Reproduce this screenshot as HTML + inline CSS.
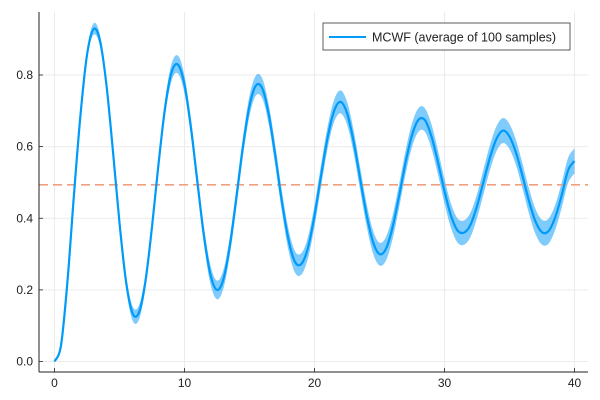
<!DOCTYPE html>
<html><head><meta charset="utf-8">
<style>
html,body{margin:0;padding:0;background:#fff;}
svg{display:block;font-family:"Liberation Sans","DejaVu Sans",sans-serif;}
</style></head>
<body>
<svg id="chart" width="600" height="400" viewBox="0 0 600 400">
<g id="grid"></g>
<g id="band"></g>
<g id="series"></g>
<g id="axes"></g>
<g>
  <rect x="323" y="23" width="247" height="27" fill="#fff" stroke="#333" stroke-width="0.8"/>
  <line x1="329" y1="37" x2="366" y2="37" stroke="#009af9" stroke-width="2"/>
  <text x="372" y="41.5" font-size="12.5" fill="#222">MCWF (average of 100 samples)</text>
</g>
</svg>
<script>
const ts = [0,0.5,1,1.5,2,2.5,3,3.5,4,4.5,5,5.5,6,6.5,7,7.5,8,8.5,9,9.5,10,10.5,11,11.5,12,12.5,13,13.5,14,14.5,15,15.5,16,16.5,17,17.5,18,18.5,19,19.5,20,20.5,21,21.5,22,22.5,23,23.5,24,24.5,25,25.5,26,26.5,27,27.5,28,28.5,29,29.5,30,30.5,31,31.5,32,32.5,33,33.5,34,34.5,35,35.5,36,36.5,37,37.5,38,38.5,39,39.5,40];
const means = [0.000,0.045,0.225,0.467,0.689,0.856,0.928,0.896,0.771,0.586,0.387,0.224,0.135,0.137,0.225,0.376,0.551,0.707,0.807,0.829,0.773,0.652,0.499,0.350,0.242,0.200,0.231,0.326,0.460,0.601,0.714,0.771,0.761,0.686,0.571,0.445,0.340,0.278,0.273,0.318,0.407,0.518,0.624,0.699,0.725,0.694,0.616,0.513,0.411,0.334,0.300,0.315,0.374,0.461,0.555,0.632,0.675,0.674,0.628,0.556,0.476,0.407,0.366,0.360,0.382,0.434,0.502,0.570,0.622,0.645,0.628,0.583,0.518,0.448,0.391,0.361,0.364,0.401,0.462,0.533,0.560];
const errs = [0.000,0.003,0.006,0.009,0.012,0.014,0.016,0.016,0.016,0.017,0.018,0.019,0.020,0.020,0.020,0.021,0.022,0.023,0.024,0.025,0.025,0.025,0.025,0.025,0.026,0.026,0.026,0.026,0.027,0.027,0.028,0.028,0.028,0.028,0.029,0.029,0.030,0.030,0.030,0.030,0.030,0.031,0.031,0.031,0.032,0.032,0.032,0.032,0.032,0.032,0.032,0.033,0.033,0.033,0.033,0.033,0.033,0.033,0.034,0.034,0.034,0.034,0.034,0.034,0.034,0.034,0.035,0.035,0.035,0.035,0.035,0.035,0.035,0.035,0.035,0.035,0.035,0.035,0.035,0.035,0.035];
const steadyValue = 0.4935;
const xTicks = [0,10,20,30,40];
const yTicks = [0,0.2,0.4,0.6,0.8];
const yTickLabels = ["0.0","0.2","0.4","0.6","0.8"];

const NS="http://www.w3.org/2000/svg";
const L=39,R=588,T=12,B=372;
function sx(v){return 54.5+v*13.0;}
function sy(v){return 361.5-v*358.1;}
function mk(tag,attrs,parent){const e=document.createElementNS(NS,tag);for(const k in attrs)e.setAttribute(k,attrs[k]);parent.appendChild(e);return e;}
function smooth(pts){
  let d="M"+pts[0][0].toFixed(2)+","+pts[0][1].toFixed(2);
  for(let i=0;i<pts.length-1;i++){
    const p0=pts[Math.max(i-1,0)],p1=pts[i],p2=pts[i+1],p3=pts[Math.min(i+2,pts.length-1)];
    const c1=[p1[0]+(p2[0]-p0[0])/6,p1[1]+(p2[1]-p0[1])/6];
    const c2=[p2[0]-(p3[0]-p1[0])/6,p2[1]-(p3[1]-p1[1])/6];
    d+="C"+c1[0].toFixed(2)+","+c1[1].toFixed(2)+" "+c2[0].toFixed(2)+","+c2[1].toFixed(2)+" "+p2[0].toFixed(2)+","+p2[1].toFixed(2);
  }
  return d;
}
const grid=document.getElementById('grid');
xTicks.forEach(v=>{
  const g=mk('line',{x1:sx(v),x2:sx(v),y1:T,y2:B,stroke:'#ebebeb','stroke-width':1},grid);
  
  
});
yTicks.forEach(v=>{
  const g=mk('line',{x1:L,x2:R,y1:sy(v),y2:sy(v),stroke:'#ebebeb','stroke-width':1},grid);
  
  
});
const band=document.getElementById('band');
const up=ts.map((t,i)=>[sx(t),sy(means[i]+errs[i])]);
const lo=ts.map((t,i)=>[sx(t),sy(means[i]-errs[i])]).reverse();
const bd=smooth(up)+"L"+smooth(lo).slice(1)+"Z";
const bp=mk('path',{d:bd,fill:'#009af9','fill-opacity':0.5,stroke:'none'},band);


const series=document.getElementById('series');
const hl=mk('line',{x1:L,x2:R,y1:sy(steadyValue),y2:sy(steadyValue),stroke:'#f0a080','stroke-width':1.6,'stroke-dasharray':'9,5'},series);


const ml=mk('path',{d:smooth(ts.map((t,i)=>[sx(t),sy(means[i])])),fill:'none',stroke:'#009af9','stroke-width':2.2,'stroke-linejoin':'round'},series);


const axes=document.getElementById('axes');
const ya=mk('line',{x1:L,x2:L,y1:T,y2:B,stroke:'#222','stroke-width':1},axes);


const xa=mk('line',{x1:L,x2:R,y1:B,y2:B,stroke:'#222','stroke-width':1},axes);


xTicks.forEach(v=>{
  const tk=mk('line',{x1:sx(v),x2:sx(v),y1:B,y2:B-4,stroke:'#222','stroke-width':0.8},axes);
  
  
  const tx=mk('text',{x:sx(v),y:B+15,'font-size':12,'text-anchor':'middle',fill:'#222'},axes);
  tx.textContent=String(v);
  
  
});
yTicks.forEach((v,i)=>{
  const tk=mk('line',{x1:L,x2:L+4,y1:sy(v),y2:sy(v),stroke:'#222','stroke-width':0.8},axes);
  
  
  const tx=mk('text',{x:L-6,y:sy(v)+4,'font-size':12,'text-anchor':'end',fill:'#222'},axes);
  tx.textContent=yTickLabels[i];
  
  
});
</script>
</body></html>
